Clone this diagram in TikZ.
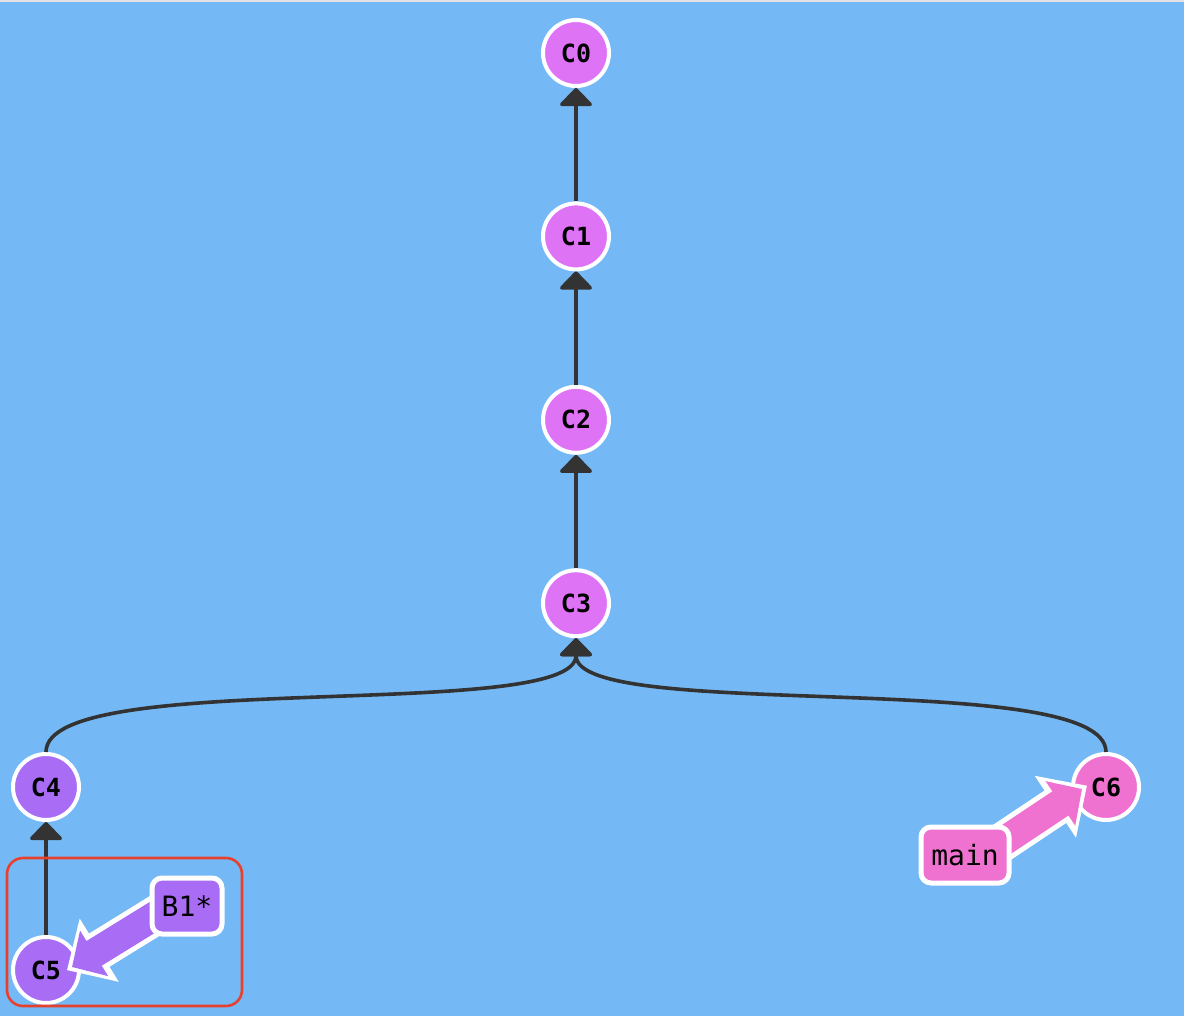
\documentclass[tikz,border=0pt]{standalone}
\usepackage{fontspec}
\setmonofont{DejaVu Sans Mono}
\usetikzlibrary{arrows.meta}
\definecolor{bgsky}{RGB}{116,185,245}
\definecolor{topgray}{RGB}{226,226,226}
\definecolor{trunkpink}{RGB}{223,115,245}
\definecolor{branchpurple}{RGB}{168,108,245}
\definecolor{mainpink}{RGB}{240,114,208}
\definecolor{edgegray}{RGB}{51,51,51}
\definecolor{focusred}{RGB}{230,65,45}
\pgfdeclarelayer{front}
\pgfsetlayers{main,front}
\tikzset{
  commit/.style    = {circle, draw=white, line width=4pt, minimum size=66pt, inner sep=0pt,
                      font={\ttfamily\bfseries\fontsize{25}{25}\selectfont}},
  parent/.style    = {draw=edgegray, line width=3.6pt, -{Triangle[length=19pt, width=36pt, round]}},
  branchtag/.style = {draw=white, line width=5pt, rounded corners=10pt, inner sep=0pt,
                      minimum height=56pt, font={\ttfamily\fontsize{28}{28}\selectfont}},
  pointer/.style   = {line width=29pt, -{Triangle[length=26pt, width=52pt]},
                      preaction={draw=white, line width=39pt, -{Triangle[length=38pt, width=72pt]},
                                 shorten >=-6pt}},
  focus/.style     = {draw=focusred, line width=2.6pt, rounded corners=16pt},
}

\begin{document}
\begin{tikzpicture}[x=1pt, y=-1pt]
  % canvas
  \fill[bgsky] (0,0) rectangle (1184,1016);
  \fill[topgray] (0,0) rectangle (1184,2);
  \useasboundingbox (0,0) rectangle (1184,1016);

  % trunk commits
  \foreach \i in {0,...,3} {
    \node[commit, fill=trunkpink] (c\i) at (576, 53+183.4*\i) {C\i};
  }

  % branch commits
  \node[commit, fill=branchpurple] (c4) at (46,787) {C4};
  \node[commit, fill=branchpurple] (c5) at (46,970) {C5};
  \node[commit, fill=mainpink] (c6) at (1106,787) {C6};

  % parent links
  \foreach \i/\j in {1/0, 2/1, 3/2} {
    \draw[parent] (c\i) -- (c\j);
  }
  \draw[parent] (c4.north) .. controls +(0,-85) and +(0,85) .. (c3.south);
  \draw[parent] (c6.north) .. controls +(0,-85) and +(0,85) .. (c3.south);
  \draw[parent] (c5) -- (c4);

  % checked-out commit
  \draw[focus] (7,858) rectangle (242,1006);

  % branch tags
  \begin{pgfonlayer}{front}
    \node[branchtag, fill=branchpurple, minimum width=70pt] (b1) at (187,906) {B1*};
    \node[branchtag, fill=mainpink, minimum width=88pt] (main) at (965,855) {main};
  \end{pgfonlayer}

  % tag pointers (start hidden under the tags)
  \draw[pointer, branchpurple] ([yshift=10pt]b1.center) -- ([xshift=-9pt, yshift=3pt]c5.east);
  \draw[pointer, mainpink] ([yshift=-12pt]main.center) -- ([xshift=11pt, yshift=-2pt]c6.west);
\end{tikzpicture}
\end{document}
